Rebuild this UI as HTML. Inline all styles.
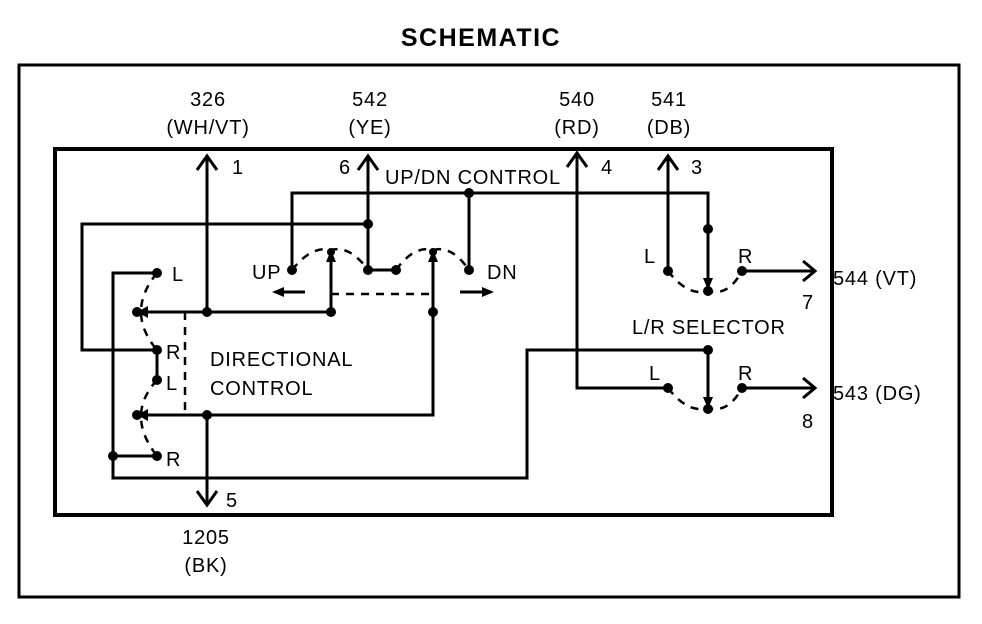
<!DOCTYPE html>
<html><head><meta charset="utf-8"><style>
html,body{margin:0;padding:0;background:#fff}
svg{display:block}
text{font-family:"Liberation Sans",Arial,sans-serif;font-size:20px;letter-spacing:0.8px;fill:#000}
</style></head><body>
<svg width="982" height="624" viewBox="0 0 982 624" xmlns="http://www.w3.org/2000/svg">
<text x="481" y="46" text-anchor="middle" style="font-size:25px;font-weight:bold;letter-spacing:1.5px">SCHEMATIC</text>
<rect x="19" y="65" width="940" height="532" fill="none" stroke="#000" stroke-width="3"/>
<rect x="55" y="149" width="777" height="366" fill="none" stroke="#000" stroke-width="4"/>
<g stroke="#000" stroke-width="3" fill="none">
<line x1="207" y1="156" x2="207" y2="312"/>
<polyline points="197,170 207,156 217,170"/>
<line x1="207" y1="415" x2="207" y2="505"/>
<polyline points="197,491 207,505 217,491"/>
<line x1="368" y1="156" x2="368" y2="270"/>
<polyline points="358,170 368,156 378,170"/>
<polyline points="292,270 292,193 708,193 708,282"/>
<line x1="469" y1="193" x2="469" y2="270"/>
<polyline points="368,224 82,224 82,350 157,350"/>
<polyline points="157,273 113,273 113,478 527,478 527,350 708,350 708,400"/>
<line x1="113" y1="456" x2="157" y2="456"/>
<line x1="157" y1="350" x2="157" y2="380"/>
<polyline points="142,312 331,312 331,256"/>
<polyline points="142,415 433,415 433,256"/>
<line x1="368" y1="270" x2="396" y2="270"/>
<polyline points="577,153 577,388 668,388"/>
<polyline points="567,167 577,153 587,167"/>
<line x1="668" y1="156" x2="668" y2="271"/>
<polyline points="658,170 668,156 678,170"/>
<line x1="742" y1="271" x2="815" y2="271"/>
<polyline points="803,261 815,271 803,281"/>
<line x1="742" y1="388" x2="815" y2="388"/>
<polyline points="803,378 815,388 803,398"/>
<line x1="282" y1="292" x2="305" y2="292"/>
<line x1="460" y1="292" x2="484" y2="292"/>
</g>
<g fill="#000">
<polygon points="272,292 284,287 284,297"/>
<polygon points="494,292 482,287 482,297"/>
<polygon points="137,312 148,306 148,318"/>
<polygon points="137,415 148,409 148,421"/>
<polygon points="331,250 326,262 336,262"/>
<polygon points="433,250 428,262 438,262"/>
<polygon points="708,290 703,278 713,278"/>
<polygon points="708,409 703,397 713,397"/>
</g>
<g stroke="#000" stroke-width="2.5" fill="none" stroke-dasharray="8,7">
<path d="M157,273 Q125,312 157,350"/>
<path d="M157,380 Q125,415 157,456"/>
<path d="M292,270 Q312,245 331,250 Q350,245 368,270"/>
<path d="M396,270 Q414,245 433,250 Q452,245 469,270"/>
<line x1="331" y1="294" x2="433" y2="294"/>
<line x1="185" y1="312" x2="185" y2="415"/>
<path d="M668,271 Q688,297 708,291 Q728,297 742,271"/>
<path d="M668,388 Q688,414 708,408 Q728,414 742,388"/>
</g>
<g fill="#000">
<circle cx="207" cy="312" r="5"/><circle cx="207" cy="415" r="5"/>
<circle cx="368" cy="224" r="5"/><circle cx="368" cy="270" r="5"/>
<circle cx="292" cy="270" r="5"/><circle cx="396" cy="270" r="5"/>
<circle cx="469" cy="270" r="5"/><circle cx="469" cy="193" r="5"/>
<circle cx="331" cy="312" r="5"/><circle cx="433" cy="312" r="5"/>
<circle cx="331" cy="252" r="4"/><circle cx="433" cy="252" r="4"/>
<circle cx="157" cy="273" r="5"/><circle cx="157" cy="350" r="5"/>
<circle cx="157" cy="380" r="5"/><circle cx="157" cy="456" r="5"/>
<circle cx="113" cy="456" r="5"/>
<circle cx="137" cy="312" r="5"/><circle cx="137" cy="415" r="5"/>
<circle cx="708" cy="229" r="5"/><circle cx="708" cy="350" r="5"/>
<circle cx="708" cy="291" r="5"/><circle cx="708" cy="409" r="5"/>
<circle cx="668" cy="271" r="5"/><circle cx="742" cy="271" r="5"/>
<circle cx="668" cy="388" r="5"/><circle cx="742" cy="388" r="5"/>
</g>
<g text-anchor="middle">
<text x="208" y="106">326</text><text x="208" y="134">(WH/VT)</text>
<text x="370" y="106">542</text><text x="370" y="134">(YE)</text>
<text x="577" y="106">540</text><text x="577" y="134">(RD)</text>
<text x="669" y="106">541</text><text x="669" y="134">(DB)</text>
<text x="206" y="544">1205</text><text x="206" y="572">(BK)</text>
</g>
<text x="232" y="174">1</text>
<text x="339" y="174">6</text>
<text x="601" y="174">4</text>
<text x="691" y="174">3</text>
<text x="802" y="309">7</text>
<text x="802" y="428">8</text>
<text x="226" y="507">5</text>
<text x="833" y="285">544 (VT)</text>
<text x="833" y="400">543 (DG)</text>
<text x="385" y="184">UP/DN CONTROL</text>
<text x="632" y="334">L/R SELECTOR</text>
<text x="210" y="366">DIRECTIONAL</text>
<text x="210" y="395">CONTROL</text>
<text x="252" y="279">UP</text>
<text x="487" y="279">DN</text>
<text x="172" y="281">L</text>
<text x="166" y="359">R</text>
<text x="166" y="390">L</text>
<text x="166" y="466">R</text>
<text x="644" y="263">L</text>
<text x="738" y="263">R</text>
<text x="649" y="380">L</text>
<text x="738" y="380">R</text>
</svg>
</body></html>
